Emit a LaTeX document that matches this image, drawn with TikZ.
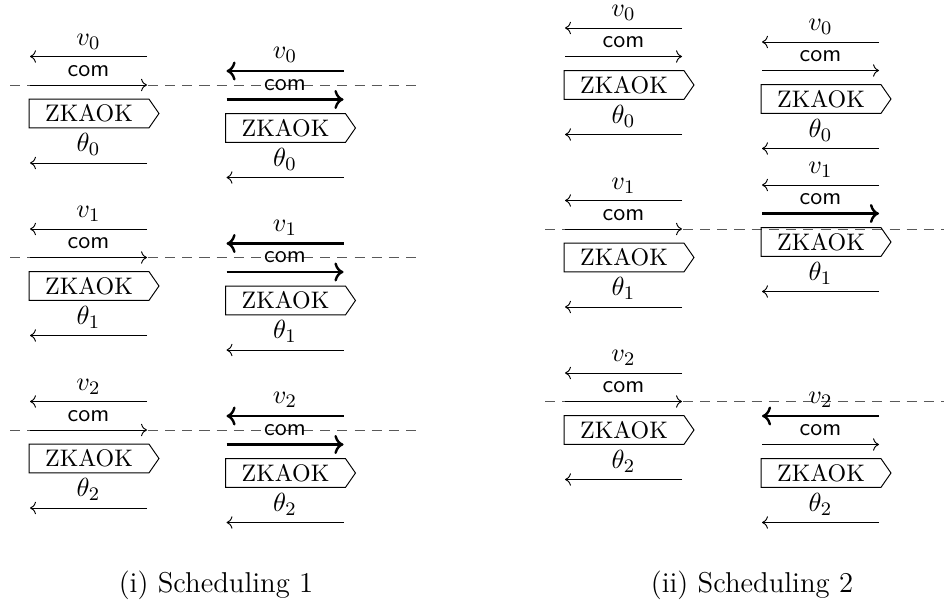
\documentclass[tikz,border=0pt]{standalone}
\usetikzlibrary{arrows.meta}
\tikzset{
  msg/.style={->},
  bold/.style={->, line width=1pt},
  zk/.style={inner sep=0pt, minimum width=49.7pt, minimum height=11.7pt},
  cutline/.style={black!65, dash pattern=on 4.2pt off 3pt},
  lbl/.style={above},
  mlbl/.style={above, font=\fontsize{10.95}{13.6}\selectfont, inner sep=2.9pt},
  captext/.style={font=\large, anchor=base},
}
\newcommand{\zkproto}[6]{%
  \coordinate (#1vL) at (#2,#3);
  \coordinate (#1vR) at (#2+117,#3);
  \draw[#5] (#1vR) -- node[mlbl] (#1vlab) {$v_{#4}$} (#1vL);
  \coordinate (#1cL) at (#2,#3+28.5);
  \coordinate (#1cR) at (#2+117,#3+28.5);
  \draw[#6] (#1cL) -- node[lbl] (#1clab) {\textsf{com}} (#1cR);
  \node[zk] (#1z) at (#2+59,#3+57) {ZKAOK};
  \draw (#1z.north west) -- (#1z.north east) -- ([xshift=4.2pt]#1z.east) -- (#1z.south east) -- (#1z.south west) -- cycle;
  \coordinate (#1tL) at (#2,#3+106.5);
  \coordinate (#1tR) at (#2+117,#3+106.5);
  \draw[msg] (#1tR) -- node[mlbl] (#1tlab) {$\theta_{#4}$} (#1tL);
}
\begin{document}
\begin{tikzpicture}[x=0.418pt,y=-0.418pt]
\useasboundingbox (0,0) rectangle (944,606);
% dashed cut lines, panel (i)
\coordinate (d0l) at (10,85);    \coordinate (d0r) at (417,85);
\coordinate (d1l) at (10,257.5); \coordinate (d1r) at (417,257.5);
\coordinate (d2l) at (10,430);   \coordinate (d2r) at (417,430);
\draw[cutline] (d0l) -- (d0r);
\draw[cutline] (d1l) -- (d1r);
\draw[cutline] (d2l) -- (d2r);
% dashed cut lines, panel (ii)
\coordinate (e1l) at (545,229);   \coordinate (e1r) at (944,229);
\coordinate (e2l) at (545,401.5); \coordinate (e2r) at (944,401.5);
\draw[cutline] (e1l) -- (e1r);
\draw[cutline] (e2l) -- (e2r);
% panel (i)
\zkproto{A0}{30}{56.5}{0}{msg}{msg}
\zkproto{A1}{30}{229}{1}{msg}{msg}
\zkproto{A2}{30}{401.5}{2}{msg}{msg}
\zkproto{B0}{226.5}{71}{0}{bold}{bold}
\zkproto{B1}{226.5}{243.5}{1}{bold}{bold}
\zkproto{B2}{226.5}{416}{2}{bold}{bold}
% panel (ii)
\zkproto{C0}{565}{28}{0}{msg}{msg}
\zkproto{C1}{565}{200.5}{1}{msg}{msg}
\zkproto{C2}{565}{373}{2}{msg}{msg}
\zkproto{D0}{762}{42}{0}{msg}{msg}
\zkproto{D1}{762}{185}{1}{msg}{bold}
\zkproto{D2}{762}{416}{2}{bold}{msg}
% captions
\node[captext] (capi) at (216,592) {(i) Scheduling 1};
\node[captext] (capii) at (752,592) {(ii) Scheduling 2};
\end{tikzpicture}
\end{document}
